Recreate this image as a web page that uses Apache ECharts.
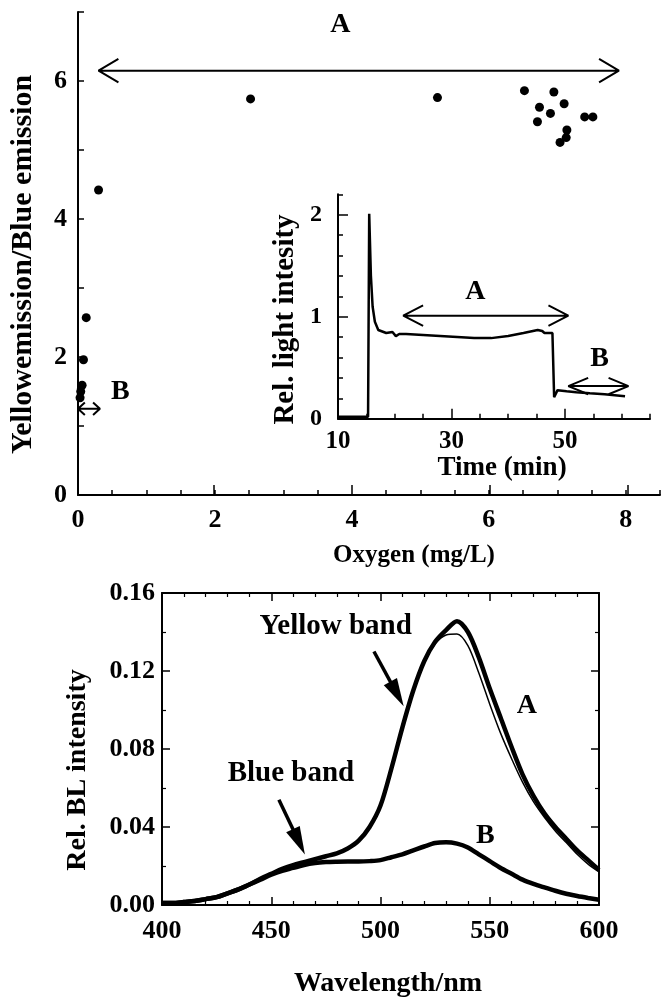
<!DOCTYPE html>
<html>
<head>
<meta charset="utf-8">
<script src="https://cdn.jsdelivr.net/npm/echarts@6/dist/echarts.min.js"></script>
<style>
  html, body { margin: 0; padding: 0; background: #fff; }
  #chart { width: 663px; height: 999px; }
</style>
</head>
<body>
<div id="chart"></div>
<script>
const FONT = 'Liberation Serif';
const INK = '#000';

// top panel: emission ratio vs dissolved oxygen
const oxygen = [0.03, 0.04, 0.06, 0.08, 0.12, 0.30, 2.52, 5.25, 6.52, 6.71, 6.74, 6.90, 6.95, 7.04, 7.10, 7.13, 7.14, 7.40, 7.52];
const ratio  = [1.41, 1.50, 1.59, 1.96, 2.57, 4.42, 5.74, 5.76, 5.86, 5.41, 5.62, 5.53, 5.84, 5.11, 5.67, 5.18, 5.29, 5.48, 5.48];
const oxygenLabels = [0, 2, 4, 6, 8];
const ratioLabels = [0, 2, 4, 6];

// inset: light intensity over time
const time = [10, 15.3, 15.5, 15.8, 16.1, 16.5, 17.1, 18.5, 19.6, 20.2, 20.8, 22, 25, 28, 31, 34, 37, 40, 42.7, 45.2, 46.0, 46.4, 47.8, 48.0, 48.1, 48.7, 50.3, 52, 54.4, 57, 60.6];
const lightIntensity = [0.02, 0.02, 2.01, 1.40, 1.10, 0.95, 0.87, 0.84, 0.85, 0.81, 0.83, 0.83, 0.82, 0.81, 0.80, 0.79, 0.79, 0.81, 0.84, 0.87, 0.86, 0.84, 0.84, 0.83, 0.21, 0.28, 0.27, 0.26, 0.25, 0.24, 0.22];
const timeLabels = [10, 30, 50];
const intensityLabels = [0, 1, 2];

// bottom panel: BL spectra
const wavelength = [400, 405, 410, 415, 420, 425, 430, 435, 440, 445, 450, 455, 460, 465, 470, 475, 480, 485, 490, 495, 500,
  505, 510, 515, 520, 525, 530, 535, 540, 545, 550, 555, 560, 565, 570, 575, 580, 585, 590, 595, 600];
const bandA = [0.001, 0.001, 0.0015, 0.002, 0.003, 0.004, 0.006, 0.008, 0.0105, 0.0135, 0.016, 0.0185, 0.0205, 0.022, 0.0235, 0.025, 0.0265, 0.029, 0.033, 0.040, 0.051,
  0.070, 0.091, 0.110, 0.125, 0.135, 0.141, 0.1455, 0.140, 0.127, 0.111, 0.096, 0.081, 0.067, 0.056, 0.047, 0.040, 0.034, 0.028, 0.023, 0.018];
const bandAThin = [0.001, 0.001, 0.0015, 0.002, 0.003, 0.004, 0.006, 0.008, 0.0105, 0.0135, 0.016, 0.0185, 0.0205, 0.022, 0.0235, 0.025, 0.0265, 0.029, 0.033, 0.040, 0.051,
  0.070, 0.091, 0.110, 0.125, 0.134, 0.1385, 0.139, 0.133, 0.119, 0.103, 0.088, 0.075, 0.063, 0.053, 0.045, 0.038, 0.032, 0.026, 0.021, 0.017];
const bandB = [0.001, 0.001, 0.0015, 0.002, 0.003, 0.004, 0.006, 0.008, 0.0105, 0.013, 0.0155, 0.0175, 0.019, 0.0205, 0.0215, 0.022, 0.0222, 0.0223, 0.0223, 0.0225, 0.023,
  0.0245, 0.026, 0.028, 0.030, 0.0318, 0.0322, 0.0315, 0.0295, 0.026, 0.0225, 0.019, 0.016, 0.013, 0.0108, 0.009, 0.0073, 0.0058, 0.0046, 0.0036, 0.0027];
const wlLabels = [400, 450, 500, 550, 600];

// annotations (data units)
const topArrows = [{ from: 0.3, to: 7.9, y: 6.15, hx: 0.29, hy: 0.17 }, { from: 0.0, to: 0.32, y: 1.25, hx: 0.1, hy: 0.09 }];
const topTexts = [{ name: 'A', value: [3.83, 6.81] }, { name: 'B', value: [0.62, 1.49] }];
const insetArrows = [{ from: 21.5, to: 50.6, y: 1.01, hx: 3.5, hy: 0.1 }, { from: 50.6, to: 61.2, y: 0.32, hx: 3.5, hy: 0.08 }];
const insetTexts = [{ name: 'A', value: [34.2, 1.24] }, { name: 'B', value: [56.1, 0.59] }];
const bandArrows = [{ tail: [497, 0.130], tip: [510.6, 0.102] }, { tail: [453.5, 0.054], tip: [465.4, 0.026] }];
const bandTexts = [
  { name: 'Yellow band', value: [479.5, 0.143] }, { name: 'Blue band', value: [459, 0.0672] }
];
const curveTexts = [{ name: 'A', value: [567, 0.102] }, { name: 'B', value: [548, 0.0354] }];

const GRID_TOP = { left: 76, top: 12, width: 586.5, height: 483 };
const GRID_INSET = { left: 338, top: 194.3, width: 312, height: 224.4 };
const GRID_BAND = { left: 162, top: 593, width: 437, height: 315 };

const txt = (size) => ({ color: INK, fontFamily: FONT, fontWeight: 'bold', fontSize: size });
const tick = (len, width) => ({ show: true, inside: true, length: len, lineStyle: { color: INK, width: width || 1.5 } });
const line = (w) => ({ show: true, onZero: false, lineStyle: { color: INK, width: w } });
const isIn = (list, v) => list.some(t => Math.abs(t - v) < 1e-6);

function dblArrow(a) {
  return [
    [a.from + a.hx, a.y + a.hy], [a.from, a.y], [a.from + a.hx, a.y - a.hy], [a.from, a.y],
    [a.to, a.y], [a.to - a.hx, a.y + a.hy], [a.to, a.y], [a.to - a.hx, a.y - a.hy]
  ];
}

function textSeries(xi, yi, data, size) {
  return {
    type: 'scatter', xAxisIndex: xi, yAxisIndex: yi, data, symbolSize: 1, silent: true,
    itemStyle: { color: 'transparent', opacity: 1 },
    label: { show: true, position: 'inside', formatter: '{b}', opacity: 1, ...txt(size) }
  };
}

// filled arrow heads for the spectrum panel
const pxPerNm = GRID_BAND.width / 200;
const pxPerI = GRID_BAND.height / 0.16;
const HEAD = [15, 28];
const bandArrowSeries = [];
bandArrows.forEach(a => {
  const dx = (a.tip[0] - a.tail[0]) * pxPerNm;
  const dy = -(a.tip[1] - a.tail[1]) * pxPerI;
  const len = Math.hypot(dx, dy);
  const ux = dx / len, uy = dy / len;
  const c = [a.tip[0] - ux * HEAD[1] / 2 / pxPerNm, a.tip[1] + uy * HEAD[1] / 2 / pxPerI];
  const rot = -(Math.atan2(uy, ux) * 180 / Math.PI + 90);
  bandArrowSeries.push({
    type: 'line', xAxisIndex: 4, yAxisIndex: 4, data: [a.tail, c], symbol: 'none',
    lineStyle: { color: INK, width: 3.5 }
  });
  bandArrowSeries.push({
    type: 'scatter', xAxisIndex: 4, yAxisIndex: 4, data: [c], symbol: 'triangle',
    symbolSize: HEAD, symbolRotate: rot, itemStyle: { color: INK, opacity: 1 }
  });
});

const minor = (n) => ({ show: true, splitNumber: n, length: 4, lineStyle: { color: INK, width: 1.2 } });

const option = {
  animation: false,
  backgroundColor: '#fff',
  grid: [GRID_TOP, GRID_TOP, GRID_INSET, GRID_INSET, GRID_BAND],
  xAxis: [
    {
      gridIndex: 0, type: 'value', min: 0, max: 8.5, interval: 0.5, splitLine: { show: false },
      axisLine: line(2), axisTick: tick(5),
      axisLabel: { ...txt(26), margin: 12, formatter: v => isIn(oxygenLabels, v) ? String(v) : '' },
      name: 'Oxygen (mg/L)', nameLocation: 'middle', nameGap: 48,
      nameTextStyle: { ...txt(25), padding: [0, 0, 0, 90] }
    },
    {
      gridIndex: 1, type: 'value', min: 0, max: 8.5, interval: 2, splitLine: { show: false },
      axisLine: { show: false }, axisLabel: { show: false },
      axisTick: { ...tick(10), customValues: oxygenLabels.slice(1) }
    },
    {
      gridIndex: 2, type: 'value', min: 10, max: 65, interval: 5, splitLine: { show: false },
      axisLine: line(2), axisTick: tick(5),
      axisLabel: { ...txt(25), margin: 10, formatter: v => isIn(timeLabels, v) ? String(v) : '' },
      name: 'Time (min)', nameLocation: 'middle', nameGap: 34,
      nameTextStyle: { ...txt(27), padding: [0, 0, 0, 16] }
    },
    {
      gridIndex: 3, type: 'value', min: 10, max: 65, interval: 20, splitLine: { show: false },
      axisLine: { show: false }, axisLabel: { show: false },
      axisTick: { ...tick(10), customValues: timeLabels.slice(1) }
    },
    {
      gridIndex: 4, type: 'value', min: 400, max: 600, interval: 50, splitLine: { show: false },
      axisLine: line(2), axisTick: tick(8), minorTick: minor(5),
      axisLabel: { ...txt(26), margin: 13, formatter: v => isIn(wlLabels, v) ? String(v) : '' },
      name: 'Wavelength/nm', nameLocation: 'middle', nameGap: 65,
      nameTextStyle: { ...txt(28), padding: [0, 0, 0, 15] }
    },
    {
      gridIndex: 4, type: 'value', position: 'top', min: 400, max: 600, interval: 50, splitLine: { show: false },
      axisLine: line(2), axisTick: tick(8), axisLabel: { show: false }, minorTick: minor(5)
    }
  ],
  yAxis: [
    {
      gridIndex: 0, type: 'value', min: 0, max: 7, interval: 1, splitLine: { show: false },
      axisLine: line(2), axisTick: tick(6),
      axisLabel: { ...txt(26), margin: 11, formatter: v => isIn(ratioLabels, v) ? String(v) : '' },
      name: 'Yellowemission/Blue emission', nameLocation: 'middle', nameGap: 40,
      nameTextStyle: { ...txt(30), padding: [0, 22, 0, 0] }
    },
    { gridIndex: 1, type: 'value', min: 0, max: 7, show: false },
    {
      gridIndex: 2, type: 'value', min: 0, max: 2.2, interval: 0.2, splitLine: { show: false },
      axisLine: line(2), axisTick: tick(5),
      axisLabel: { ...txt(24), margin: 16, formatter: v => isIn(intensityLabels, v) ? String(Math.round(v)) : '' },
      name: 'Rel. light intesity', nameLocation: 'middle', nameGap: 38,
      nameTextStyle: { ...txt(29), padding: [0, 26, 0, 0] }
    },
    {
      gridIndex: 3, type: 'value', min: 0, max: 2.2, interval: 1, splitLine: { show: false },
      axisLine: { show: false }, axisLabel: { show: false },
      axisTick: { ...tick(10), customValues: intensityLabels.slice(1) }
    },
    {
      gridIndex: 4, type: 'value', min: 0, max: 0.16, interval: 0.04, splitLine: { show: false },
      axisLine: line(2), axisTick: tick(8), minorTick: minor(2),
      axisLabel: { ...txt(26), margin: 7, formatter: v => v.toFixed(2) },
      name: 'Rel. BL intensity', nameLocation: 'middle', nameGap: 70,
      nameTextStyle: { ...txt(28), padding: [0, 42, 0, 0] }
    },
    {
      gridIndex: 4, type: 'value', position: 'right', min: 0, max: 0.16, interval: 0.04, splitLine: { show: false },
      axisLine: line(2), axisTick: tick(8), axisLabel: { show: false }, minorTick: minor(2)
    }
  ],
  series: [
    {
      type: 'scatter', xAxisIndex: 0, yAxisIndex: 0, clip: false, symbolSize: 9,
      itemStyle: { color: INK, opacity: 1 }, data: oxygen.map((x, i) => [x, ratio[i]])
    },
    ...topArrows.map(a => ({
      type: 'line', xAxisIndex: 0, yAxisIndex: 0, clip: false, symbol: 'none',
      lineStyle: { color: INK, width: 2 }, data: dblArrow(a)
    })),
    textSeries(0, 0, topTexts, 28),
    {
      type: 'line', xAxisIndex: 2, yAxisIndex: 2, symbol: 'none',
      lineStyle: { color: INK, width: 2.5 }, data: time.map((t, i) => [t, lightIntensity[i]])
    },
    ...insetArrows.map(a => ({
      type: 'line', xAxisIndex: 2, yAxisIndex: 2, clip: false, symbol: 'none',
      lineStyle: { color: INK, width: 2 }, data: dblArrow(a)
    })),
    textSeries(2, 2, insetTexts, 28),
    {
      type: 'line', xAxisIndex: 4, yAxisIndex: 4, symbol: 'none', smooth: 0.3,
      lineStyle: { color: INK, width: 4.5 }, data: wavelength.map((w, i) => [w, bandA[i]])
    },
    {
      type: 'line', xAxisIndex: 4, yAxisIndex: 4, symbol: 'none', smooth: 0.3,
      lineStyle: { color: INK, width: 1.5 }, data: wavelength.map((w, i) => [w, bandAThin[i]])
    },
    {
      type: 'line', xAxisIndex: 4, yAxisIndex: 4, symbol: 'none', smooth: 0.3,
      lineStyle: { color: INK, width: 4.5 }, data: wavelength.map((w, i) => [w, bandB[i]])
    },
    ...bandArrowSeries,
    textSeries(4, 4, bandTexts, 29),
    textSeries(4, 4, curveTexts, 28)
  ]
};

const chart = echarts.init(document.getElementById('chart'));
chart.setOption(option);
</script>
</body>
</html>
